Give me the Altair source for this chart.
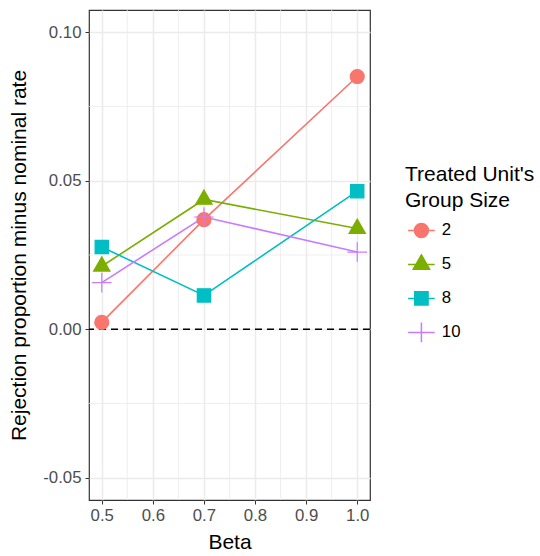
import altair as alt
import pandas as pd

# ---- data ----
beta = [0.5, 0.7, 1.0]
groups = ["2", "5", "8", "10"]
vals_2 = [0.0023, 0.0369, 0.0851]
vals_5 = [0.0212, 0.0437, 0.0339]
vals_8 = [0.0277, 0.0114, 0.0465]
vals_10 = [0.0157, 0.0378, 0.0260]
colors = ["#F8766D", "#7CAE00", "#00BFC4", "#C77CFF"]

x_major = [0.5, 0.6, 0.7, 0.8, 0.9, 1.0]
x_minor = [0.55, 0.65, 0.75, 0.85, 0.95]
y_major = [-0.05, 0.0, 0.05, 0.10]
y_minor = [-0.025, 0.025, 0.075]
ref_line = [0.0]

df = pd.DataFrame({
    "beta": beta * 4,
    "group": [g for g in groups for _ in beta],
    "value": vals_2 + vals_5 + vals_8 + vals_10,
})

# ---- styling ----
W, H = 281, 490
FONT = "Liberation Sans"
GRID = "#EBEBEB"
TITLE_FS = 21
LABEL_FS = 16.8

tri = "M0,-1.35L1.17,0.68L-1.17,0.68Z"
plus = "M-1.4,0L1.4,0M0,-1.4L0,1.4"
circ = "M-1,0A1,1,0,1,0,1,0A1,1,0,1,0,-1,0Z"
sq = "M-0.95,-0.95L0.95,-0.95L0.95,0.95L-0.95,0.95Z"
seg = "M0,-1.45M0,1.45M-1.9,0L1.9,0"
plot_shapes = [circ, tri, sq, plus]
legend_shapes = [seg + circ, seg + tri, seg + sq, seg + plus]

xscale = alt.Scale(domain=[0.475, 1.025], nice=False, zero=False)
yscale = alt.Scale(domain=[-0.0575, 0.1075], nice=False, zero=False)

xaxis = alt.Axis(values=x_major, format=".1f", grid=True, gridColor=GRID, gridWidth=1.5,
                 domain=False, tickColor="#333333", tickSize=4, tickWidth=1,
                 labelFontSize=LABEL_FS, labelColor="#4D4D4D", labelPadding=3,
                 titleFontSize=TITLE_FS, titleColor="black", titleFontWeight="normal",
                 titlePadding=8)
yaxis = alt.Axis(values=y_major, grid=True, gridColor=GRID, gridWidth=1.5,
                 labelExpr="datum.value < 0 ? '-' + format(abs(datum.value), '.2f') : format(datum.value, '.2f')",
                 domain=False, tickColor="#333333", tickSize=4, tickWidth=1,
                 labelFontSize=LABEL_FS, labelColor="#4D4D4D", labelPadding=4,
                 titleFontSize=TITLE_FS, titleColor="black", titleFontWeight="normal",
                 titlePadding=13)

X = alt.X("beta:Q", scale=xscale, axis=xaxis, title="Beta")
Y = alt.Y("value:Q", scale=yscale, axis=yaxis, title="Rejection proportion minus nominal rate")

minor_x = alt.Chart(pd.DataFrame({"beta": x_minor})).mark_rule(
    color=GRID, strokeWidth=0.8).encode(x=X)
minor_y = alt.Chart(pd.DataFrame({"value": y_minor})).mark_rule(
    color=GRID, strokeWidth=0.8).encode(y=Y)
hline = alt.Chart(pd.DataFrame({"value": ref_line})).mark_rule(
    color="black", strokeWidth=1.5, strokeDash=[7, 5]).encode(y=Y)

cscale = alt.Scale(domain=groups, range=colors)

lines = alt.Chart(df).mark_line(strokeWidth=1.6).encode(
    x=X, y=Y, color=alt.Color("group:N", scale=cscale, legend=None),
    detail="group:N")

points = alt.Chart(df).mark_point(filled=True, size=196, strokeWidth=1.2, opacity=1).encode(
    x=X, y=Y,
    color=alt.Color("group:N", scale=cscale, legend=None),
    stroke=alt.Stroke("group:N", scale=cscale, legend=None),
    shape=alt.Shape("group:N", scale=alt.Scale(domain=groups, range=plot_shapes), legend=None))

leg = dict(title=["Treated Unit's", "Group Size"], orient="none", legendX=316, legendY=154,
           titleFontSize=TITLE_FS, titleFontWeight="normal", titleColor="black", titleLineHeight=26,
           titlePadding=11, labelFontSize=LABEL_FS, labelColor="black", symbolOffset=8,
           labelOffset=12, rowPadding=7, symbolStrokeWidth=1.5, symbolSize=196)

legend_layer = alt.Chart(df).transform_filter("false").mark_point(
    filled=True, size=196, strokeWidth=1.5, opacity=1).encode(
    x=X, y=Y,
    fill=alt.Fill("group:N", scale=alt.Scale(domain=groups, range=colors), legend=alt.Legend(**leg)),
    stroke=alt.Stroke("group:N", scale=alt.Scale(domain=groups, range=colors), legend=alt.Legend(**leg)),
    shape=alt.Shape("group:N", scale=alt.Scale(domain=groups, range=legend_shapes), legend=alt.Legend(**leg)))

chart = alt.layer(minor_x, minor_y, hline, lines, points, legend_layer).resolve_scale(
    shape="independent", stroke="independent", fill="independent", color="independent"
).properties(
    width=W, height=H,
    autosize=alt.AutoSizeParams(type="none"),
    padding={"left": 89, "top": 10, "right": 540 - 89 - W, "bottom": 556 - 10 - H},
).configure(font=FONT).configure_view(stroke="#333333", strokeWidth=1.2)

chart.save("out.html", embed_options={"renderer": "svg", "actions": False})
